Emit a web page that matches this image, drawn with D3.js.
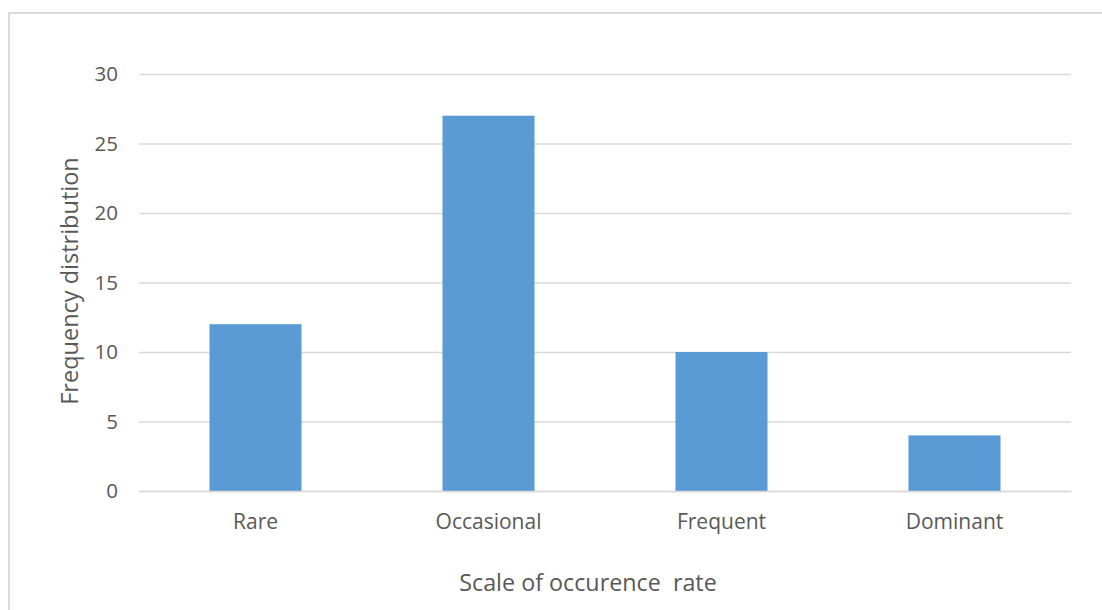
<!DOCTYPE html>
<html>
<head>
<meta charset="utf-8">
<script src="https://cdn.jsdelivr.net/npm/d3@7"></script>
<style>
  html, body { margin: 0; padding: 0; background: #fff; }
  svg { display: block; font-family: "Open Sans", sans-serif; }
</style>
</head>
<body>
<svg id="chart" width="1102" height="610"></svg>
<script>
// Occurrence-rate classes and how many records fall in each
const categories = ["Rare", "Occasional", "Frequent", "Dominant"];
const frequencies = [12, 27, 10, 4];
const yTicks = [0, 5, 10, 15, 20, 25, 30];
const xTitle = "Scale of occurence  rate";
const yTitle = "Frequency distribution";

const svg = d3.select("#chart");
const textColor = "#595959";
const gridColor = "#d9d9d9";

// Outer chart frame
svg.append("rect")
  .attr("x", 9).attr("y", 13)
  .attr("width", 1110).attr("height", 620)
  .attr("fill", "#fff")
  .attr("stroke", gridColor)
  .attr("stroke-width", 2);

const plot = { left: 139, right: 1071, top: 74, bottom: 491 };

const x = d3.scaleBand()
  .domain(categories)
  .range([plot.left, plot.right])
  .paddingInner(0.605)
  .paddingOuter(0.3025);

const y = d3.scaleLinear()
  .domain([0, 30])
  .range([plot.bottom, plot.top]);

// Horizontal gridlines with value labels
const yAxis = d3.axisLeft(y)
  .tickValues(yTicks)
  .tickSize(-(plot.right - plot.left))
  .tickPadding(21);

const gy = svg.append("g")
  .attr("transform", `translate(${plot.left},0)`)
  .call(yAxis);
gy.select(".domain").remove();
gy.selectAll(".tick line")
  .attr("stroke", gridColor)
  .attr("stroke-width", 1.5);
gy.selectAll(".tick text")
  .attr("fill", textColor)
  .attr("font-size", 20.5)
  .attr("font-family", "Open Sans, sans-serif");

// Bars
svg.append("g")
  .selectAll("rect")
  .data(categories.map((c, i) => ({ c, v: frequencies[i] })))
  .join("rect")
  .attr("x", d => x(d.c))
  .attr("y", d => y(d.v))
  .attr("width", x.bandwidth())
  .attr("height", d => y(0) - y(d.v))
  .attr("fill", "#5b9bd5");

// Category axis
const xAxis = d3.axisBottom(x).tickSize(0).tickPadding(23);
const gx = svg.append("g")
  .attr("transform", `translate(0,${plot.bottom})`)
  .call(xAxis);
gx.select(".domain")
  .attr("stroke", gridColor)
  .attr("stroke-width", 1.5);
gx.selectAll(".tick text")
  .attr("fill", textColor)
  .attr("font-size", 21)
  .attr("font-family", "Open Sans, sans-serif");

// Axis titles
svg.append("text")
  .attr("x", 588).attr("y", 591)
  .attr("text-anchor", "middle")
  .attr("fill", textColor)
  .attr("font-size", 23.3)
  .style("white-space", "pre")
  .text(xTitle);

svg.append("text")
  .attr("transform", "translate(78,281) rotate(-90)")
  .attr("text-anchor", "middle")
  .attr("fill", textColor)
  .attr("font-size", 23.5)
  .text(yTitle);
</script>
</body>
</html>
